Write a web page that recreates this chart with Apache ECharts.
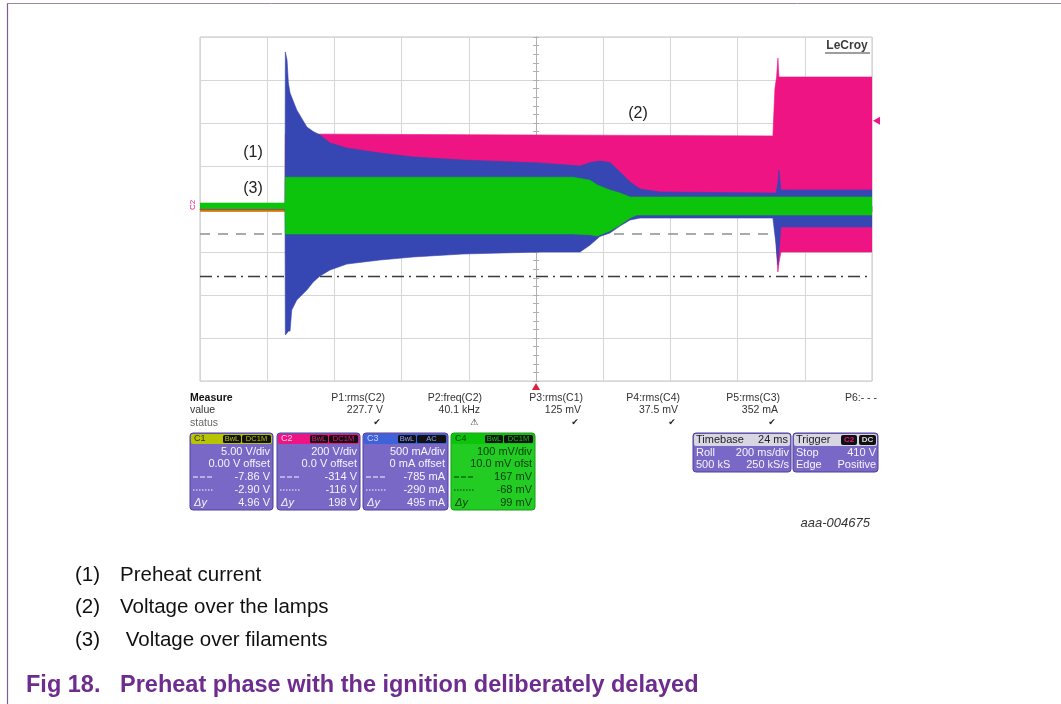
<!DOCTYPE html>
<html><head><meta charset="utf-8">
<script src="https://cdn.jsdelivr.net/npm/echarts@6/dist/echarts.min.js"></script>
<style>html,body{margin:0;padding:0;background:#fff;}#c{width:1061px;height:704px;}</style>
</head><body><div id="c"></div>
<script>
// ---------- DATA (time in ms relative to trigger, 200 ms/div) ----------
const C1_PER_DIV = 5, C2_PER_DIV = 200, C3_PER_DIV = 500, C4_PER_DIV = 100;

// C1 (yellow) level, V
const c1Time  = [-1000, 1000];
const c1Level = [-0.23, -0.23];

// C2 voltage over the lamps, envelope in V
const c2Time  = [-1000, -747, -746, 705, 711, 716, 720, 723, 729, 1000];
const c2Upper = [5, 5, 349, 340, 560, 614, 702, 614, 614, 614];
const c2Lower = [-5, -5, -14, -14, -14, -200, -293, -250, -200, -200];

// C3 preheat current, envelope in mA
const c3Time  = [-747, -746, -741, -737, -732, -727, -712, -682, -663, -643, -613, -563, -464, -366, -217, 12, 131, 161, 190, 220, 250, 280, 310, 369, 705, 714, 720, 723, 729, 741, 1000];
const c3Upper = [0, 1826, 1733, 1465, 1349, 1300, 1151, 954, 900, 861, 768, 709, 651, 605, 570, 535, 500, 540, 558, 540, 430, 314, 233, 198, 186, 186, 300, 454, 221, 221, 221];
const c3Lower = [0, -1465, -1442, -1420, -1420, -1174, -1058, -942, -849, -780, -709, -640, -593, -558, -523, -500, -500, -419, -320, -279, -198, -128, -105, -105, -105, -400, -651, -500, -209, -209, -209];

// C4 voltage over filaments, envelope in mV
const c4Time  = [-1000, -747, -746, 110, 161, 182, 220, 250, 280, 300, 1000];
const c4Upper = [14, 14, 74, 74, 67, 56, 44, 37, 28, 28, 28];
const c4Lower = [0, 0, -58, -58, -60, -63, -51, -37, -21, -14, -14];

// C3 cursors (mA) and trigger level (V on C2)
const c3CursorA = -785, c3CursorB = -290;
const triggerLevel = 410;

// Measurement row
const measLabels = ['P1:rms(C2)', 'P2:freq(C2)', 'P3:rms(C1)', 'P4:rms(C4)', 'P5:rms(C3)', 'P6:- - -'];
const measValues = ['227.7 V', '40.1 kHz', '125 mV', '37.5 mV', '352 mA', ''];
const measStatus = ['\u2714', '\u26A0', '\u2714', '\u2714', '\u2714', ''];

// Channel boxes
const chanNames    = ['C1', 'C2', 'C3', 'C4'];
const chanCoupling = ['DC1M', 'DC1M', 'AC', 'DC1M'];
const chanScale    = ['5.00 V/div', '200 V/div', '500 mA/div', '100 mV/div'];
const chanOffset   = ['0.00 V offset', '0.0 V offset', '0 mA offset', '10.0 mV ofst'];
const chanCurA     = ['-7.86 V', '-314 V', '-785 mA', '167 mV'];
const chanCurB     = ['-2.90 V', '-116 V', '-290 mA', '-68 mV'];
const chanDy       = ['4.96 V', '198 V', '495 mA', '99 mV'];

const timebaseRows = [['Timebase', '24 ms'], ['Roll', '200 ms/div'], ['500 kS', '250 kS/s']];
const triggerRows  = [['Trigger', ''], ['Stop', '410 V'], ['Edge', 'Positive']];

const legendItems = [['(1)', 'Preheat current'], ['(2)', 'Voltage over the lamps'], ['(3)', ' Voltage over filaments']];
const figTitle = ['Fig 18.', 'Preheat phase with the ignition deliberately delayed'];

// ---------- COLOURS ----------
const PINK = '#ee1484', BLUE = '#3646b2', GREEN = '#0cc40c', YEL = '#b8c400';
const LAV = '#7a68c6', FONT = '"Liberation Sans", Arial, sans-serif';

const chart = echarts.init(document.getElementById('c'));

function bandSeries(name, time, upper, lower, perDiv, color, z) {
  const pts = time.map((t, i) => [t, upper[i] / perDiv, lower[i] / perDiv]);
  return {
    name, type: 'custom', z, silent: true, animation: false, clip: true,
    encode: { x: 0, y: [1, 2] }, data: pts,
    renderItem: function (params, api) {
      if (params.dataIndex !== 0) return null;
      const poly = [];
      for (let i = 0; i < pts.length; i++) poly.push(api.coord([pts[i][0], pts[i][1]]));
      for (let i = pts.length - 1; i >= 0; i--) poly.push(api.coord([pts[i][0], pts[i][2]]));
      return { type: 'polygon', shape: { points: poly }, style: { fill: color, stroke: color, lineWidth: 0.6 } };
    }
  };
}

const axCol = '#b0b0b0';
function xAx(pos, split) {
  return { type: 'value', min: -1000, max: 1000, interval: 200, position: pos,
    axisLabel: { show: false },
    axisLine: { show: true, onZero: true, lineStyle: { color: axCol } },
    axisTick: { show: true, length: 3, lineStyle: { color: axCol } },
    minorTick: { show: true, splitNumber: 5, length: 3, lineStyle: { color: axCol } },
    splitLine: { show: split, lineStyle: { color: '#d6d6d6' } } };
}
function yAx(pos, split) {
  return { type: 'value', min: -4, max: 4, interval: 1, position: pos,
    axisLabel: { show: false },
    axisLine: { show: true, onZero: true, lineStyle: { color: axCol } },
    axisTick: { show: true, length: 3, lineStyle: { color: axCol } },
    minorTick: { show: true, splitNumber: 5, length: 3, lineStyle: { color: axCol } },
    splitLine: { show: split, lineStyle: { color: '#d6d6d6' } } };
}

chart.setOption({
  animation: false,
  backgroundColor: '#fff',
  grid: { left: 200, top: 37, width: 672, height: 344, show: true, borderColor: '#c6c6c6', borderWidth: 1, backgroundColor: '#fff' },
  xAxis: [xAx('bottom', true), xAx('top', false)],
  yAxis: [yAx('left', true), yAx('right', false)],
  series: [
    { name: 'C1', type: 'line', z: 1, symbol: 'none', silent: true,
      data: c1Time.map((t, i) => [t, c1Level[i] / C1_PER_DIV]),
      lineStyle: { color: '#d09a10', width: 2 },
      markLine: { silent: true, z: 1, symbol: 'none', label: { show: false }, animation: false,
        data: [
          { yAxis: c3CursorB / C3_PER_DIV, lineStyle: { type: [10, 8], color: '#8e8e8e', width: 1.6 } },
          { yAxis: c3CursorA / C3_PER_DIV, lineStyle: { type: [12, 5, 2, 5], color: '#3a3a3a', width: 1.4 } }
        ] } },
    bandSeries('C2', c2Time, c2Upper, c2Lower, C2_PER_DIV, PINK, 2),
    bandSeries('C3', c3Time, c3Upper, c3Lower, C3_PER_DIV, BLUE, 3),
    bandSeries('C4', c4Time, c4Upper, c4Lower, C4_PER_DIV, GREEN, 4)
  ]
});

// ---------- LAYOUT GRAPHICS ----------
const G = [];
function txt(x, y, s, o) {
  G.push({ type: 'text', x, y, z: 100, silent: true, rotation: (o && o.rot) || 0,
    style: Object.assign({ text: s, font: '10.5px ' + FONT, fill: '#222', textAlign: 'left', textVerticalAlign: 'middle', verticalAlign: 'middle' }, o || {}) });
}
function rect(x, y, w, h, fill, r, stroke) {
  G.push({ type: 'rect', z: 99, silent: true, shape: { x, y, width: w, height: h, r: r || 0 }, style: { fill, stroke: stroke || null, lineWidth: 1 } });
}
function line(x1, y1, x2, y2, color, w, dash) {
  G.push({ type: 'line', z: 100, silent: true, shape: { x1, y1, x2, y2 }, style: { stroke: color, lineWidth: w || 1, lineDash: dash || null } });
}

// frame
line(7.5, 3, 7.5, 704, '#7e5a96', 1.2);
line(7, 3.5, 1061, 3.5, '#9a86a8', 1);

// in-plot annotations
txt(847, 46, 'LeCroy', { font: 'bold 12px ' + FONT, fill: '#3c3c3c', textAlign: 'center' });
line(825, 53, 870, 53, '#3c3c3c', 1);
txt(253, 153, '(1)', { font: '16px ' + FONT, fill: '#222', textAlign: 'center' });
txt(253, 189, '(3)', { font: '16px ' + FONT, fill: '#222', textAlign: 'center' });
txt(638, 114, '(2)', { font: '16px ' + FONT, fill: '#222', textAlign: 'center' });
txt(193, 205, 'C2', { font: '8px ' + FONT, fill: PINK, textAlign: 'center', rot: Math.PI / 2 });

// trigger markers from the axes
const trigPt = chart.convertToPixel({ xAxisIndex: 0, yAxisIndex: 0 }, [0, -4]);
G.push({ type: 'polygon', z: 100, silent: true, shape: { points: [[trigPt[0], trigPt[1] + 2], [trigPt[0] - 4, trigPt[1] + 9], [trigPt[0] + 4, trigPt[1] + 9]] }, style: { fill: '#e0203a' } });
const lvlPt = chart.convertToPixel({ xAxisIndex: 0, yAxisIndex: 0 }, [1000, triggerLevel / C2_PER_DIV]);
G.push({ type: 'polygon', z: 100, silent: true, shape: { points: [[lvlPt[0] + 1, lvlPt[1]], [lvlPt[0] + 8, lvlPt[1] - 4], [lvlPt[0] + 8, lvlPt[1] + 4]] }, style: { fill: PINK } });

// measure table
txt(190, 398, 'Measure', { font: 'bold 10.5px ' + FONT, fill: '#111' });
txt(190, 410, 'value', { fill: '#333' });
txt(190, 423, 'status', { fill: '#666' });
const measRight = [385, 482, 583, 680, 780, 877];
measLabels.forEach((s, i) => {
  txt(measRight[i], 398, s, { textAlign: 'right', fill: '#333' });
  if (measValues[i]) txt(measRight[i] - 2, 410, measValues[i], { textAlign: 'right', fill: '#333' });
  if (measStatus[i]) txt(measRight[i] - 8, 423, measStatus[i], { textAlign: 'center', font: '9px "DejaVu Sans"', fill: '#222' });
});

// channel boxes
const boxX = [190, 277, 363, 451], boxW = [83, 83, 85, 84];
const headCol = [YEL, PINK, '#3f62d8', GREEN];
const headTxt = ['#333', '#ffd0e8', '#c8d0ff', '#0b3d0b'];
const tagTxt = [YEL, PINK, '#8aa0ff', GREEN];
chanNames.forEach((n, i) => {
  const x = boxX[i], w = boxW[i], y = 433, h = 77;
  const body = i === 3 ? '#22cc22' : LAV;
  const fg = i === 3 ? '#0a3a0a' : '#f6f4ff';
  rect(x, y, w, h, body, 3, i === 3 ? '#129a12' : '#4e3f98');
  rect(x + 1, y + 1, w - 2, 10, headCol[i], 2);
  txt(x + 4, y + 6, n, { font: '9px ' + FONT, fill: headTxt[i] });
  rect(x + w - 50, y + 2, 18, 8, '#111', 1.5);
  rect(x + w - 31, y + 2, 29, 8, '#111', 1.5);
  txt(x + w - 41, y + 6, 'BwL', { font: '7.5px ' + FONT, fill: tagTxt[i], textAlign: 'center' });
  txt(x + w - 16.5, y + 6, chanCoupling[i], { font: '7.5px ' + FONT, fill: tagTxt[i], textAlign: 'center' });
  const rows = [chanScale[i], chanOffset[i], chanCurA[i], chanCurB[i], chanDy[i]];
  const ry = [452, 464, 477, 490, 503];
  rows.forEach((s, k) => txt(x + w - 3, ry[k], s, { font: '11px ' + FONT, fill: fg, textAlign: 'right' }));
  line(x + 3, 477, x + 24, 477, fg, 1, [5, 2]);
  line(x + 3, 490, x + 24, 490, fg, 1, [1.5, 1.5]);
  txt(x + 4, 503, '\u0394y', { font: 'italic 11px ' + FONT, fill: fg });
});

// timebase / trigger boxes
function infoBox(x, w, rows, tags) {
  rect(x, 433, w, 39, LAV, 3, '#4e3f98');
  rect(x + 1, 434, w - 2, 12, '#d8d6e2', 2);
  txt(x + 3, 440, rows[0][0], { font: '11px ' + FONT, fill: '#222' });
  if (rows[0][1]) txt(x + w - 3, 440, rows[0][1], { font: '11px ' + FONT, fill: '#222', textAlign: 'right' });
  if (tags) {
    rect(x + w - 37, 435, 16, 10, '#111', 2);
    rect(x + w - 19, 435, 17, 10, '#111', 2);
    txt(x + w - 29, 440, tags[0], { font: 'bold 8px ' + FONT, fill: PINK, textAlign: 'center' });
    txt(x + w - 10.5, 440, tags[1], { font: 'bold 8px ' + FONT, fill: '#ddd', textAlign: 'center' });
  }
  [453, 465].forEach((yy, k) => {
    txt(x + 3, yy, rows[k + 1][0], { font: '11px ' + FONT, fill: '#f6f4ff' });
    txt(x + w - 2, yy, rows[k + 1][1], { font: '11px ' + FONT, fill: '#f6f4ff', textAlign: 'right' });
  });
}
infoBox(693, 98, timebaseRows, null);
infoBox(793, 85, triggerRows, ['C2', 'DC']);

txt(870, 523, 'aaa-004675', { font: 'italic 13px ' + FONT, fill: '#333', textAlign: 'right' });

// legend text below
const legY = [575, 607, 640];
legendItems.forEach((it, i) => {
  txt(75, legY[i], it[0], { font: '20.5px ' + FONT, fill: '#111' });
  txt(120, legY[i], it[1], { font: '20.5px ' + FONT, fill: '#111' });
});
txt(26, 686, figTitle[0], { font: 'bold 23.5px ' + FONT, fill: '#6e2c8f' });
txt(120, 686, figTitle[1], { font: 'bold 23.5px ' + FONT, fill: '#6e2c8f' });

chart.setOption({ graphic: { elements: G } });
</script></body></html>
